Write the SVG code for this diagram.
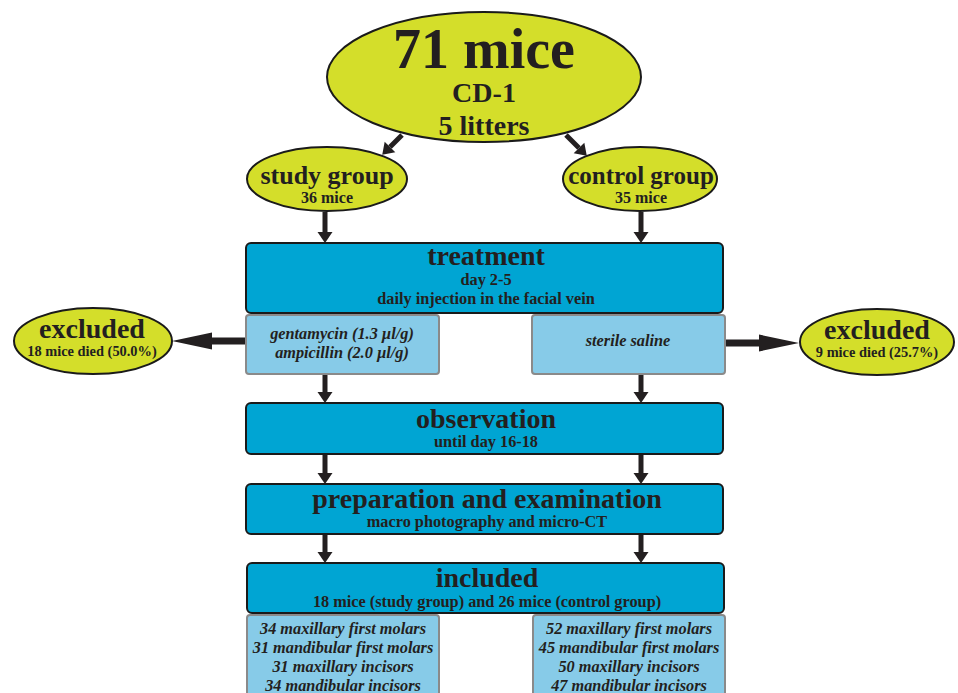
<svg xmlns="http://www.w3.org/2000/svg" width="958" height="693" viewBox="0 0 958 693">
<defs>
<style>
.ell{fill:#d4de2a;stroke:#1a1a1a;stroke-width:2}
.box{fill:#00a5d3;stroke:#1a1a1a;stroke-width:2}
.sub{fill:#87cbe8;stroke:#8a8a8a;stroke-width:2}
text{font-family:"Liberation Serif","Times New Roman",serif;font-weight:bold;fill:#231f20;text-anchor:middle}
.it{font-style:italic}
.t{font-size:28px}
.s{font-size:16.3px}
.conn line{stroke:#231f20}
.v{stroke-width:5;marker-end:url(#ah)}
.h{stroke-width:7;marker-end:url(#ahb)}
</style>
<marker id="ah" markerUnits="userSpaceOnUse" markerWidth="14" markerHeight="16" viewBox="0 -8 12 16" refX="0" refY="0" orient="auto"><path d="M0,-7.5 L11,0 L0,7.5 z" fill="#231f20"/></marker>
<marker id="ahb" markerUnits="userSpaceOnUse" markerWidth="42" markerHeight="20" viewBox="0 -10 42 20" refX="0" refY="0" orient="auto"><path d="M0,-8.5 L40,0 L0,8.5 z" fill="#231f20"/></marker>
</defs>
<rect width="958" height="693" fill="#ffffff"/>

<g id="connectors" class="conn">
<line class="v" x1="402" y1="135" x2="390" y2="147"/>
<line class="v" x1="566" y1="135" x2="579" y2="148"/>
<line class="v" x1="325" y1="212" x2="325" y2="232"/>
<line class="v" x1="641" y1="212" x2="641" y2="232"/>
<line class="v" x1="325" y1="374" x2="325" y2="392"/>
<line class="v" x1="641" y1="374" x2="641" y2="392"/>
<line class="v" x1="325" y1="454" x2="325" y2="473"/>
<line class="v" x1="641" y1="454" x2="641" y2="473"/>
<line class="v" x1="325" y1="534" x2="325" y2="552"/>
<line class="v" x1="641" y1="534" x2="641" y2="552"/>
<line class="h" x1="246" y1="341" x2="212" y2="341"/>
<line class="h" x1="726" y1="343" x2="759" y2="343"/>
</g>

<g id="n-total">
<ellipse class="ell" cx="484" cy="77" rx="157" ry="65"/>
<text x="484" y="68" font-size="56">71 mice</text>
<text x="484" y="102" font-size="28">CD-1</text>
<text x="484" y="135" font-size="28">5 litters</text>
</g>

<g id="n-study">
<ellipse class="ell" cx="327" cy="179" rx="80" ry="32"/>
<text x="327" y="184" font-size="26">study group</text>
<text x="327" y="203" font-size="16">36 mice</text>
</g>

<g id="n-control">
<ellipse class="ell" cx="640" cy="179" rx="77" ry="32"/>
<text x="641" y="184" font-size="25">control group</text>
<text x="641" y="203" font-size="16">35 mice</text>
</g>

<g id="n-treatment">
<rect class="box" x="246" y="243" width="477" height="70" rx="5"/>
<text class="t" x="486" y="265">treatment</text>
<text class="s" x="486" y="285">day 2-5</text>
<text class="s" x="486" y="304">daily injection in the facial vein</text>
</g>

<g id="n-antibiotics">
<rect class="sub" x="246" y="315" width="193" height="59" rx="3"/>
<text class="it s" x="342" y="339">gentamycin (1.3 µl/g)</text>
<text class="it s" x="342" y="358">ampicillin (2.0 µl/g)</text>
</g>

<g id="n-saline">
<rect class="sub" x="532" y="315" width="193" height="59" rx="3"/>
<text class="it s" x="628" y="346">sterile saline</text>
</g>

<g id="n-excluded-study">
<ellipse class="ell" cx="93" cy="341" rx="79" ry="33"/>
<text class="t" x="92" y="338">excluded</text>
<text x="92" y="356" font-size="14.4">18 mice died (50.0%)</text>
</g>

<g id="n-excluded-control">
<ellipse class="ell" cx="877" cy="342" rx="77" ry="33"/>
<text class="t" x="877" y="339">excluded</text>
<text x="877" y="357" font-size="14.4">9 mice died (25.7%)</text>
</g>

<g id="n-observation">
<rect class="box" x="246" y="403" width="477" height="51" rx="5"/>
<text class="t" x="486" y="428">observation</text>
<text class="s" x="486" y="447">until day 16-18</text>
</g>

<g id="n-preparation">
<rect class="box" x="246" y="484" width="477" height="50" rx="5"/>
<text class="t" x="487" y="508">preparation and examination</text>
<text class="s" x="487" y="527">macro photography and micro-CT</text>
</g>

<g id="n-included">
<rect class="box" x="247" y="563" width="477" height="50" rx="5"/>
<text class="t" x="487" y="587">included</text>
<text class="s" x="487" y="607">18 mice (study group) and 26 mice (control group)</text>
</g>

<g id="n-study-teeth">
<rect class="sub" x="247" y="615" width="192" height="90" rx="3"/>
<text class="it s" x="343" y="634">34 maxillary first molars</text>
<text class="it s" x="343" y="653">31 mandibular first molars</text>
<text class="it s" x="343" y="672">31 maxillary incisors</text>
<text class="it s" x="343" y="691">34 mandibular incisors</text>
</g>

<g id="n-control-teeth">
<rect class="sub" x="533" y="615" width="192" height="90" rx="3"/>
<text class="it s" x="629" y="634">52 maxillary first molars</text>
<text class="it s" x="629" y="653">45 mandibular first molars</text>
<text class="it s" x="629" y="672">50 maxillary incisors</text>
<text class="it s" x="629" y="691">47 mandibular incisors</text>
</g>
</svg>
